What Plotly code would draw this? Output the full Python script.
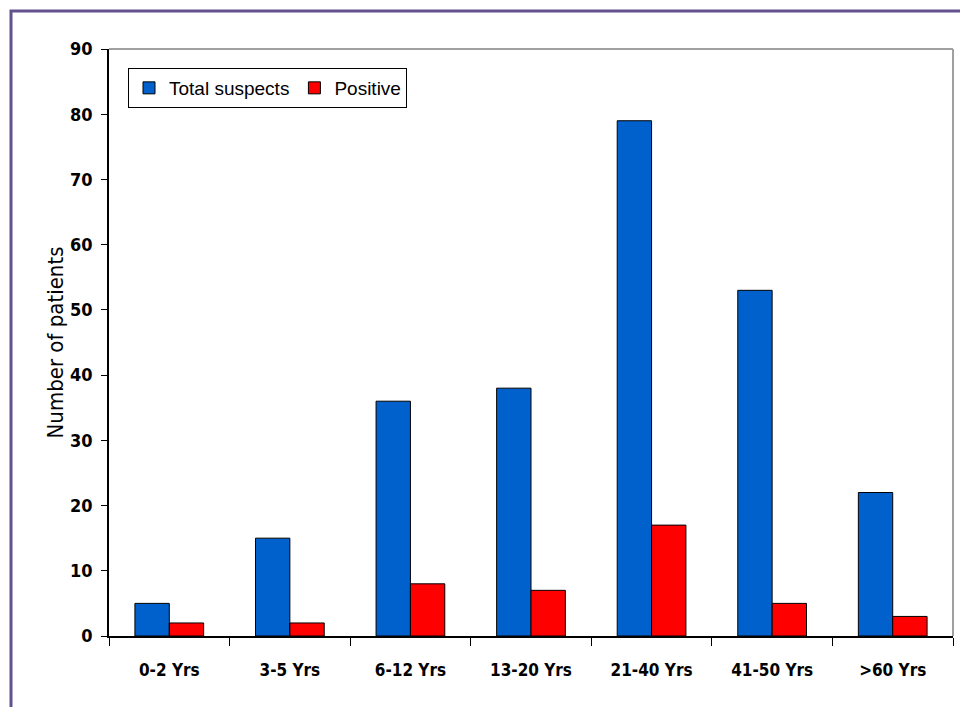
import plotly.graph_objects as go

categories = ["0-2 Yrs", "3-5 Yrs", "6-12 Yrs", "13-20 Yrs", "21-40 Yrs", "41-50 Yrs", ">60 Yrs"]
total_suspects = [5, 15, 36, 38, 79, 53, 22]
positive = [2, 2, 8, 7, 17, 5, 3]
y_ticks = [0, 10, 20, 30, 40, 50, 60, 70, 80, 90]

W, H = 960, 707
L, R, T, B = 109, 7, 49, 71
pw, ph = W - L - R, H - T - B

def px(x):
    return (x - L) / pw

def py(y):
    return 1 - (y - T) / ph

COND = "DejaVu Sans Condensed, Liberation Sans Narrow, Arial Narrow, sans-serif"
REG = "Liberation Sans, Arial, sans-serif"

fig = go.Figure()
fig.add_trace(go.Bar(x=categories, y=total_suspects, name="Total suspects",
                     marker=dict(color="#0060CC", line=dict(color="black", width=1))))
fig.add_trace(go.Bar(x=categories, y=positive, name="Positive",
                     marker=dict(color="#FF0000", line=dict(color="black", width=1))))

fig.update_layout(
    width=W, height=H,
    margin=dict(l=L, r=R, t=T, b=B),
    paper_bgcolor="white", plot_bgcolor="white",
    barmode="group", bargap=0.43, bargroupgap=0,
    showlegend=True,
    legend=dict(orientation="h", x=px(128), y=py(68), xanchor="left", yanchor="top",
                bordercolor="black", borderwidth=1, bgcolor="white",
                font=dict(family=REG, size=19, color="black"),
                itemwidth=30, tracegroupgap=0),
    xaxis=dict(tickson="boundaries", ticks="outside", ticklen=8, tickcolor="black",
               showline=True, linecolor="black", linewidth=1.5, showgrid=False,
               tickfont=dict(family=COND, size=17, color="black", weight="bold"),
               ticklabelstandoff=18),
    yaxis=dict(range=[0, 90], tickvals=y_ticks, ticks="outside", ticklen=6, tickcolor="black",
               showline=True, linecolor="black", linewidth=1.5, showgrid=False, zeroline=False,
               tickfont=dict(family=COND, size=18, color="black", weight="bold"),
               ticklabelstandoff=5,
               title=dict(text="Number of patients",
                          font=dict(family=COND, size=22, color="black"),
                          standoff=0)),
    shapes=[
        dict(type="line", xref="paper", yref="paper", x0=0, x1=1, y0=1, y1=1,
             line=dict(color="#a0a0a0", width=2), layer="below"),
        dict(type="line", xref="paper", yref="paper", x0=1, x1=1, y0=0, y1=1,
             line=dict(color="#a0a0a0", width=2), layer="below"),
        dict(type="rect", xref="paper", yref="paper", x0=px(11), x1=px(990), y0=py(11), y1=py(740),
             line=dict(color="#65508E", width=3), layer="below"),
    ],
)

fig.write_html("out.html")
